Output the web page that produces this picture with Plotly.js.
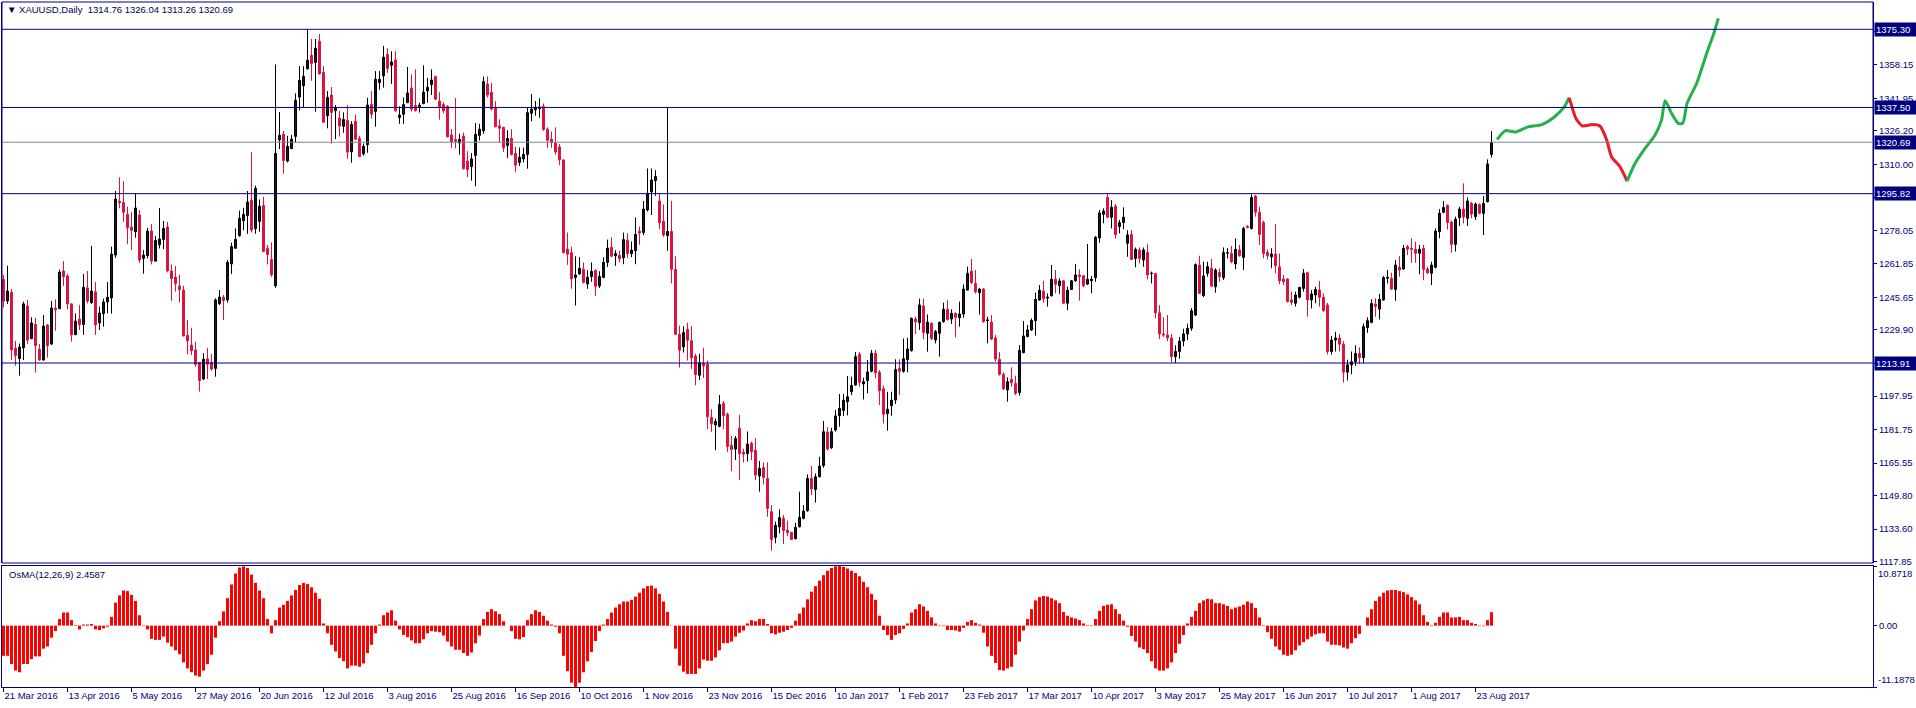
<!DOCTYPE html>
<html><head><meta charset="utf-8">
<script src="https://cdn.plot.ly/plotly-3.0.1.min.js"></script>
<style>html,body{margin:0;padding:0;background:#fff;overflow:hidden}#chart{width:1916px;height:708px}</style>
</head><body><div id="chart"></div>
<script>
// ---- tick labels (one every 16 daily bars) ----
const dateLabels = ["21 Mar 2016","13 Apr 2016","5 May 2016","27 May 2016","20 Jun 2016","12 Jul 2016","3 Aug 2016","25 Aug 2016","16 Sep 2016","10 Oct 2016","1 Nov 2016","23 Nov 2016","15 Dec 2016","10 Jan 2017","1 Feb 2017","23 Feb 2017","17 Mar 2017","10 Apr 2017","3 May 2017","25 May 2017","16 Jun 2017","10 Jul 2017","1 Aug 2017","23 Aug 2017"];
const labelEvery = 16;
const priceTicks = [1374.35,1358.15,1341.95,1326.20,1310.00,1293.80,1278.05,1261.85,1245.65,1229.90,1213.70,1197.95,1181.75,1165.55,1149.80,1133.60,1117.85];
const hiddenPriceTicks = [1374.35,1293.80,1213.70];
const osmaTicks = [10.8718, 0, -11.1878];

// ---- XAUUSD daily OHLC ----
const open = [
1254.4,1243.9,1248.1,1221.0,1216.0,1221.3,1241.5,1225.7,1232.6,1220.5,
1215.4,1232.3,1223.1,1240.4,1240.2,1258.4,1256.0,1242.5,1227.6,1235.2,
1232.5,1250.2,1243.1,1248.3,1233.3,1237.8,1243.4,1245.4,1266.1,1292.2,
1291.6,1285.8,1279.7,1277.4,1285.5,1264.5,1265.8,1277.7,1263.2,1271.1,
1273.7,1279.7,1258.4,1255.5,1251.1,1249.2,1227.3,1222.6,1220.2,1214.1,
1206.2,1215.9,1214.1,1211.3,1242.6,1245.7,1244.4,1261.8,1269.4,1275.5,
1282.7,1285.3,1292.6,1278.9,1282.4,1290.1,1269.4,1264.0,1251.3,1321.9,
1324.6,1311.6,1317.6,1323.5,1342.5,1348.0,1356.2,1362.7,1359.3,1369.5,
1354.5,1333.5,1343.5,1335.9,1332.4,1328.4,1331.3,1316.1,1330.8,1322.5,
1315.1,1319.5,1339.0,1335.6,1349.5,1352.8,1363.2,1357.9,1360.5,1332.6,
1334.2,1339.8,1346.9,1338.4,1337.7,1339.3,1345.5,1348.6,1352.5,1340.6,
1338.9,1338.1,1324.2,1322.0,1320.3,1323.7,1311.6,1308.9,1314.3,1324.0,
1326.2,1348.8,1344.9,1337.2,1328.6,1327.9,1319.1,1322.5,1315.2,1310.9,
1312.6,1314.8,1334.7,1336.4,1336.9,1338.1,1327.0,1322.1,1320.3,1318.4,
1312.1,1269.0,1267.3,1255.3,1257.0,1259.3,1252.2,1255.8,1258.7,1251.2,
1255.3,1262.6,1269.9,1265.8,1265.9,1264.8,1273.3,1266.8,1268.2,1277.7,
1277.0,1287.9,1296.7,1302.1,1292.3,1282.4,1275.6,1277.5,1259.2,1227.8,
1221.7,1230.2,1224.7,1217.3,1208.0,1213.7,1213.4,1187.6,1184.0,1183.3,
1194.5,1189.1,1174.2,1172.3,1182.3,1170.8,1170.1,1175.1,1171.8,1159.3,
1163.4,1158.1,1142.0,1129.6,1134.7,1138.8,1133.1,1132.0,1129.0,1134.7,
1138.8,1142.5,1158.1,1152.8,1158.9,1164.3,1180.5,1173.0,1181.5,1188.4,
1190.9,1195.2,1200.0,1203.3,1218.1,1203.8,1205.4,1209.9,1218.6,1209.4,
1201.5,1189.4,1193.3,1196.0,1211.3,1209.9,1215.5,1219.9,1235.2,1233.4,
1241.5,1228.3,1233.1,1225.0,1228.3,1233.9,1239.9,1235.2,1237.9,1235.8,
1237.6,1249.2,1258.3,1252.4,1247.9,1249.7,1234.4,1233.7,1226.0,1215.7,
1208.4,1200.9,1206.0,1204.1,1199.6,1218.9,1226.7,1229.9,1234.4,1244.4,
1248.7,1245.3,1246.5,1254.4,1251.3,1253.7,1242.8,1249.5,1253.7,1256.5,
1256.1,1252.1,1253.7,1255.2,1274.4,1285.8,1294.0,1284.4,1289.7,1279.9,
1281.8,1271.8,1276.1,1264.5,1268.6,1263.7,1267.4,1257.2,1257.1,1238.2,
1228.0,1227.5,1226.0,1217.0,1219.5,1224.5,1228.0,1230.7,1237.1,1261.3,
1246.5,1257.3,1259.7,1250.8,1257.8,1255.2,1267.1,1266.9,1261.8,1268.6,
1265.0,1280.0,1278.9,1294.7,1286.8,1281.9,1267.4,1265.3,1266.6,1260.5,
1254.5,1254.5,1244.4,1242.8,1245.7,1250.0,1257.6,1244.4,1246.8,1249.2,
1245.7,1242.0,1219.5,1225.0,1226.0,1223.0,1209.5,1213.0,1214.5,1218.5,
1216.5,1231.0,1233.6,1242.4,1240.0,1244.4,1254.9,1254.9,1249.5,1260.2,
1259.4,1270.2,1269.4,1268.9,1267.0,1269.4,1259.4,1257.3,1260.2,1277.4,
1286.8,1290.2,1282.1,1271.3,1284.2,1288.4,1283.9,1291.1,1284.7,1290.6,
1286.3,1291.9,1314.76];
const high = [
1256.5,1261.0,1249.7,1224.6,1223.4,1243.6,1244.4,1236.0,1235.8,1223.1,
1237.1,1232.8,1243.9,1244.7,1259.1,1263.2,1257.0,1242.8,1237.9,1242.0,
1257.0,1258.4,1270.5,1253.1,1241.2,1245.0,1253.1,1270.2,1297.1,1303.7,
1301.9,1289.5,1286.9,1295.8,1287.9,1268.5,1279.3,1281.1,1275.3,1288.9,
1282.6,1282.2,1261.6,1260.8,1256.6,1251.3,1234.7,1231.0,1224.2,1214.5,
1218.7,1221.2,1218.3,1245.2,1249.2,1246.8,1263.7,1272.1,1279.0,1287.6,
1289.0,1297.1,1315.9,1299.7,1293.0,1294.3,1271.0,1272.3,1358.3,1335.3,
1326.1,1323.8,1324.2,1344.3,1357.5,1357.5,1375.3,1370.6,1370.6,1373.0,
1357.5,1345.4,1347.4,1338.7,1335.8,1335.1,1338.7,1330.9,1334.0,1323.8,
1320.1,1342.2,1345.4,1355.1,1355.1,1367.3,1366.1,1364.7,1364.7,1338.1,
1342.3,1357.1,1353.4,1355.9,1339.8,1357.9,1351.7,1355.9,1352.8,1344.9,
1340.1,1338.5,1327.0,1342.0,1324.8,1325.4,1316.4,1315.5,1329.9,1329.6,
1352.5,1352.5,1349.4,1340.6,1331.8,1328.2,1326.5,1327.0,1318.6,1318.1,
1318.1,1337.2,1344.0,1340.6,1342.0,1339.4,1327.9,1325.9,1327.9,1319.8,
1312.6,1277.0,1270.2,1265.5,1265.1,1262.6,1258.8,1262.6,1259.2,1258.3,
1265.1,1273.6,1274.8,1268.5,1268.2,1277.0,1276.6,1272.7,1284.3,1279.9,
1292.3,1308.0,1308.0,1307.2,1295.7,1290.6,1337.6,1292.3,1265.5,1232.0,
1231.7,1233.4,1231.7,1218.4,1218.4,1221.3,1215.1,1191.6,1187.1,1198.4,
1195.5,1189.9,1178.6,1178.6,1188.8,1172.5,1180.8,1175.9,1177.5,1166.5,
1165.9,1165.9,1145.2,1137.2,1143.1,1140.4,1137.7,1132.3,1136.7,1151.7,
1145.2,1160.1,1164.1,1160.5,1168.6,1185.9,1182.8,1182.6,1191.2,1198.9,
1198.9,1207.6,1207.3,1219.2,1219.2,1206.8,1215.4,1220.2,1220.2,1210.5,
1203.0,1200.0,1200.0,1215.7,1215.7,1225.8,1226.2,1236.0,1236.3,1245.0,
1245.0,1237.4,1233.6,1229.9,1233.9,1243.1,1244.4,1239.9,1238.4,1243.6,
1252.0,1260.5,1264.2,1258.9,1250.2,1250.2,1236.3,1237.1,1227.5,1219.2,
1209.4,1207.0,1211.8,1207.8,1222.6,1234.2,1232.3,1235.5,1247.9,1251.6,
1253.6,1247.6,1261.3,1258.9,1254.9,1253.9,1250.8,1254.1,1261.8,1259.2,
1256.5,1271.5,1256.0,1275.3,1287.9,1288.7,1296.0,1292.7,1290.8,1283.1,
1289.2,1278.2,1278.2,1269.8,1269.8,1269.8,1271.4,1258.1,1257.6,1241.9,
1236.0,1237.1,1228.0,1222.5,1226.5,1230.5,1233.0,1240.5,1262.1,1265.8,
1262.9,1262.9,1264.2,1259.7,1259.7,1269.8,1269.4,1270.5,1274.2,1271.0,
1279.8,1280.6,1295.5,1295.2,1289.5,1282.7,1268.9,1269.4,1281.1,1266.9,
1256.5,1254.9,1248.4,1248.4,1250.8,1259.4,1258.1,1249.2,1250.8,1253.6,
1247.6,1243.0,1227.0,1229.0,1228.0,1224.5,1215.5,1219.5,1222.5,1221.5,
1233.0,1236.0,1244.7,1245.2,1247.3,1256.0,1258.9,1257.6,1263.7,1265.6,
1271.0,1271.0,1274.2,1272.6,1271.0,1271.0,1260.5,1262.9,1279.0,1288.4,
1292.3,1290.6,1282.7,1284.7,1289.5,1300.8,1294.0,1291.9,1291.5,1291.1,
1294.7,1312.4,1326.04];
const low = [
1240.7,1242.5,1215.4,1212.6,1207.8,1215.4,1223.1,1225.4,1209.2,1215.0,
1215.0,1216.5,1222.6,1229.5,1240.0,1251.2,1239.9,1224.2,1227.5,1229.9,
1227.5,1242.8,1242.5,1227.5,1229.9,1231.5,1237.9,1237.8,1264.8,1288.7,
1282.2,1271.4,1268.5,1274.5,1262.3,1257.1,1264.5,1261.6,1262.9,1269.3,
1269.0,1257.7,1244.0,1248.4,1243.2,1226.7,1218.1,1217.8,1212.1,1200.1,
1205.7,1206.2,1210.2,1207.3,1242.0,1234.7,1243.1,1257.0,1269.1,1275.0,
1278.1,1276.4,1277.1,1276.4,1277.4,1267.4,1261.6,1255.6,1250.3,1317.4,
1305.5,1310.9,1317.4,1320.5,1336.1,1337.7,1355.8,1350.4,1335.4,1353.5,
1330.1,1327.4,1320.0,1322.2,1323.4,1325.3,1312.7,1310.8,1321.7,1313.4,
1314.2,1315.6,1332.1,1328.2,1346.1,1347.1,1354.2,1348.9,1335.4,1329.6,
1329.6,1339.8,1335.5,1335.5,1335.0,1339.3,1339.8,1343.5,1341.1,1331.6,
1334.7,1323.1,1318.0,1317.7,1314.7,1307.5,1303.8,1302.1,1299.4,1321.5,
1324.8,1342.3,1336.0,1327.9,1320.6,1316.0,1313.0,1314.3,1306.2,1309.2,
1310.9,1307.9,1330.8,1333.5,1332.5,1326.2,1318.0,1318.0,1314.7,1309.6,
1266.8,1261.4,1249.8,1241.7,1256.6,1252.4,1249.8,1253.2,1246.4,1250.2,
1254.9,1260.4,1265.1,1260.9,1262.6,1261.7,1264.8,1265.1,1261.7,1271.1,
1275.8,1287.2,1285.5,1294.8,1278.7,1274.9,1268.2,1252.4,1227.4,1211.7,
1219.0,1215.1,1211.1,1203.2,1205.7,1206.6,1182.0,1180.6,1171.8,1182.8,
1182.0,1170.9,1161.6,1167.0,1157.4,1165.8,1166.3,1167.0,1157.3,1151.7,
1155.2,1139.6,1123.1,1126.7,1131.5,1126.4,1130.2,1128.3,1128.6,1134.4,
1138.3,1142.0,1150.1,1146.4,1158.6,1163.3,1171.5,1172.3,1180.7,1183.1,
1188.3,1188.6,1198.4,1202.8,1202.5,1196.3,1199.2,1209.4,1206.5,1193.6,
1184.7,1181.2,1188.4,1194.1,1198.4,1209.2,1209.4,1219.4,1227.9,1229.9,
1225.4,1219.4,1225.0,1223.4,1217.0,1233.4,1234.4,1232.8,1226.3,1231.5,
1235.8,1248.9,1252.1,1247.6,1237.4,1233.4,1223.4,1225.0,1214.6,1207.8,
1200.9,1195.2,1202.5,1198.4,1198.1,1218.6,1226.3,1229.4,1227.1,1244.1,
1243.1,1241.2,1246.0,1247.6,1247.3,1242.4,1239.5,1249.2,1253.2,1244.1,
1250.5,1251.6,1247.6,1253.2,1272.1,1281.5,1284.2,1279.0,1274.2,1276.6,
1278.6,1265.3,1263.7,1260.2,1262.1,1260.5,1254.4,1252.4,1235.5,1225.5,
1226.5,1224.5,1214.2,1214.0,1216.0,1222.0,1225.0,1229.5,1236.6,1247.3,
1245.8,1255.7,1250.8,1247.9,1253.2,1254.1,1264.5,1262.1,1259.2,1265.3,
1258.9,1279.0,1278.5,1284.7,1271.0,1264.5,1264.0,1259.7,1257.3,1252.0,
1251.6,1243.2,1242.0,1241.2,1245.2,1248.4,1236.3,1240.3,1242.8,1241.2,
1238.7,1218.0,1218.0,1219.5,1219.5,1204.5,1205.5,1208.5,1212.5,1213.5,
1214.0,1228.5,1233.1,1236.3,1235.0,1244.0,1252.4,1249.2,1244.0,1255.7,
1258.9,1266.1,1262.4,1262.4,1256.9,1254.0,1256.9,1251.6,1259.7,1274.2,
1286.3,1278.5,1267.3,1267.8,1280.2,1281.4,1280.2,1283.9,1283.1,1285.8,
1275.8,1291.6,1313.26];
const close = [
1243.9,1248.7,1220.2,1217.5,1221.6,1242.5,1225.0,1233.3,1222.3,1215.4,
1231.8,1222.3,1240.5,1239.7,1257.9,1255.7,1242.5,1227.6,1234.2,1232.5,
1250.5,1243.9,1248.7,1232.3,1238.1,1243.4,1245.7,1266.6,1293.2,1291.4,
1286.8,1279.3,1278.1,1288.9,1263.7,1266.1,1277.7,1263.2,1273.2,1273.9,
1279.0,1258.5,1254.8,1252.3,1249.4,1227.1,1224.7,1219.9,1213.3,1205.4,
1215.7,1213.3,1211.0,1244.4,1245.8,1244.1,1262.6,1270.2,1273.7,1283.9,
1285.8,1291.8,1278.2,1298.4,1289.7,1267.9,1266.4,1256.6,1315.3,1324.0,
1311.9,1318.7,1322.2,1340.9,1350.6,1352.5,1360.3,1358.8,1366.1,1353.7,
1330.3,1342.4,1335.1,1337.4,1328.5,1331.7,1315.9,1329.3,1322.1,1313.8,
1318.7,1338.7,1334.2,1351.1,1351.1,1361.8,1356.4,1359.5,1335.9,1333.8,
1338.9,1344.5,1336.7,1335.9,1338.6,1344.9,1347.2,1350.8,1341.5,1337.7,
1335.9,1323.3,1320.8,1321.1,1322.0,1307.9,1307.5,1312.6,1324.5,1327.0,
1350.0,1343.5,1336.7,1328.2,1327.4,1318.0,1322.5,1314.7,1309.6,1313.5,
1314.8,1335.0,1336.7,1337.6,1337.7,1326.9,1321.6,1320.6,1316.0,1312.1,
1267.3,1266.5,1254.6,1256.5,1259.7,1252.9,1255.4,1258.2,1251.0,1255.8,
1262.6,1269.5,1265.6,1266.8,1264.3,1273.6,1266.8,1268.5,1276.1,1276.8,
1288.4,1296.0,1302.4,1304.1,1281.7,1275.8,1277.5,1259.2,1227.8,1220.1,
1228.6,1224.9,1216.4,1208.3,1214.0,1212.5,1187.9,1184.5,1185.7,1193.8,
1188.4,1173.5,1172.1,1177.4,1170.1,1169.8,1174.7,1171.0,1159.7,1162.9,
1158.5,1143.6,1128.6,1135.4,1139.1,1132.8,1131.9,1128.6,1134.4,1139.3,
1142.3,1158.1,1153.1,1158.9,1164.1,1180.7,1172.3,1180.7,1188.3,1192.0,
1195.9,1197.6,1203.1,1217.0,1204.6,1204.9,1209.6,1218.6,1209.2,1200.5,
1189.1,1191.5,1196.0,1210.8,1209.9,1216.0,1220.7,1235.5,1233.9,1242.0,
1228.7,1233.6,1225.8,1229.1,1233.6,1239.9,1235.0,1237.9,1236.0,1237.6,
1249.7,1257.3,1252.9,1248.4,1249.7,1233.9,1234.7,1225.5,1215.8,1208.4,
1201.5,1204.9,1204.4,1199.2,1220.0,1227.0,1229.9,1234.5,1244.7,1249.1,
1245.0,1245.7,1254.4,1252.0,1253.6,1242.8,1249.2,1253.7,1256.5,1255.7,
1251.3,1254.4,1254.4,1274.7,1286.5,1287.4,1284.4,1289.2,1276.0,1281.8,
1284.4,1275.8,1264.0,1268.9,1264.5,1268.6,1256.5,1257.3,1238.2,1228.0,
1227.5,1226.0,1217.0,1219.5,1224.5,1228.0,1230.7,1239.2,1261.5,1247.6,
1256.0,1260.5,1251.1,1258.9,1255.7,1267.3,1267.2,1262.9,1268.9,1265.8,
1279.0,1279.5,1294.0,1286.8,1276.1,1266.9,1265.8,1266.6,1261.0,1253.7,
1253.2,1243.6,1243.2,1246.8,1250.5,1257.3,1244.4,1247.3,1249.5,1245.7,
1239.2,1219.5,1225.0,1226.0,1223.0,1209.5,1213.0,1214.5,1218.5,1216.5,
1231.5,1234.4,1242.7,1241.2,1244.7,1255.2,1255.3,1249.7,1261.3,1258.9,
1269.4,1269.0,1268.9,1267.0,1268.9,1259.2,1257.6,1261.3,1277.7,1286.3,
1289.2,1281.9,1271.3,1283.5,1288.4,1284.5,1292.3,1285.9,1290.8,1286.3,
1291.1,1310.2,1320.69];

// ---- OsMA(12,26,9) histogram ----
const osma = [
-5.5,-5.5,-7.0,-8.2,-8.5,-7.0,-7.0,-6.1,-5.6,-5.6,
-4.2,-3.8,-2.2,-1.0,1.2,2.4,2.4,1.0,0.1,-0.7,
0.2,0.2,0.3,-0.7,-0.8,-0.5,-0.2,1.6,4.2,5.5,
6.4,6.3,5.6,4.5,1.9,-0.1,-0.7,-2.4,-2.6,-2.6,
-2.0,-3.1,-3.8,-4.5,-5.2,-6.7,-7.8,-8.5,-9.1,-9.3,
-8.2,-7.0,-5.3,-2.2,0.8,2.6,5.0,7.5,9.5,10.6,
10.8,10.5,9.3,7.8,6.4,5.0,1.2,-1.4,1.0,3.3,
3.8,4.5,5.5,6.5,7.4,7.8,7.6,7.0,6.0,4.9,
0.4,-1.4,-3.5,-4.7,-5.9,-6.5,-7.8,-7.3,-7.3,-7.5,
-6.9,-5.0,-3.5,-1.4,0.2,1.9,2.4,2.8,0.9,-0.7,
-1.7,-2.1,-2.7,-3.2,-3.2,-2.5,-1.4,-1.0,-1.1,-1.2,
-1.8,-2.9,-3.8,-4.4,-4.4,-5.0,-5.5,-4.9,-3.2,-1.8,
1.2,2.5,3.0,2.6,2.1,0.8,0.0,-1.0,-2.4,-2.5,
-2.1,1.0,2.1,2.8,2.5,1.8,0.9,0.2,-0.2,-1.4,
-5.5,-8.3,-10.4,-11.1878,-10.4,-8.5,-6.5,-4.8,-2.8,-1.0,
0.2,1.2,2.4,3.3,3.9,4.4,4.4,4.7,5.3,6.0,
6.8,7.2,7.3,6.8,5.8,4.4,2.5,0.05,-4.2,-7.3,
-8.4,-8.8,-8.8,-8.8,-7.8,-6.2,-6.4,-6.4,-5.8,-4.5,
-3.2,-3.2,-2.9,-2.0,-1.3,-0.9,0.4,1.0,0.8,1.2,
1.2,0.3,-1.4,-1.6,-1.3,-1.1,-0.8,-0.4,0.9,2.2,
3.3,4.8,6.2,7.2,8.2,9.2,10.0,10.5,10.8,10.8718,
10.7,10.4,10.0,9.6,9.0,8.0,7.0,5.8,4.7,1.8,
-0.8,-1.7,-2.6,-1.7,-1.4,-0.6,0.4,2.4,3.0,3.9,
3.5,2.7,1.5,0.4,-0.1,-0.1,-0.8,-0.8,-0.9,-1.1,
-0.4,0.7,1.0,0.5,0.2,-1.3,-3.8,-5.5,-6.8,-8.1,
-8.2,-7.8,-7.5,-5.3,-2.9,-0.9,1.2,3.0,4.6,5.2,
5.4,5.3,5.0,4.6,4.1,2.5,1.8,1.5,1.3,1.0,
0.4,0.1,-0.1,1.2,2.7,3.6,3.8,3.9,3.0,2.1,
0.9,-0.2,-1.9,-2.9,-4.0,-4.3,-5.0,-6.5,-7.8,-8.2,
-8.2,-7.8,-6.7,-5.0,-3.3,-1.7,0.4,1.6,2.7,4.1,
4.6,4.9,4.8,4.1,4.1,3.9,3.6,3.0,3.3,3.5,
3.8,4.4,4.1,3.2,1.5,0.1,-1.2,-2.4,-3.8,-4.4,
-5.3,-5.5,-5.3,-4.5,-3.6,-3.0,-2.5,-2.0,-1.6,-1.4,
-1.4,-2.9,-3.5,-3.5,-3.6,-4.0,-4.2,-3.2,-2.3,-1.5,
0.0,1.5,3.0,4.5,5.3,6.0,6.4,6.5,6.5,6.3,
6.1,5.7,5.2,4.6,3.9,1.9,0.7,-0.1,0.5,1.6,
2.4,2.4,1.5,1.5,1.6,1.0,1.0,0.5,0.3,-0.1,
-0.1,1.0,2.4587];

// ---- horizontal levels and current price ----
const levelLines = [1375.30, 1337.50, 1295.82, 1213.91];
const lastPrice = 1320.69;

// ---- hand-drawn projection (bar index, price) ----
const projGreen1Bar = [373.4,375.5,377.9,381.0,384.6,387.7,390.1,391.4];
const projGreen1Price = [1322.0,1326.3,1325.6,1328.0,1329.2,1332.9,1337.5,1342.2];
const projRedBar = [391.4,391.7,393.1,394.7,397.1,399.1,400.8,402.0,404.1,405.9];
const projRedPrice = [1342.2,1340.4,1332.2,1328.6,1329.2,1328.5,1321.8,1313.7,1308.9,1301.9];
const projGreen2Bar = [405.9,407.9,410.4,412.9,414.5,415.4,417.0,418.7,419.8,420.9,423.3,425.8,427.6,428.7];
const projGreen2Price = [1301.9,1310.5,1317.7,1324.2,1331.4,1340.8,1334.7,1329.8,1329.8,1339.5,1349.2,1363.7,1373.4,1380.6];

// ---- build ----
const NAVY = '#000080';
const FONT = 'Liberation Sans, Arial, sans-serif';
const bars = open.map((_, i) => i);
const tickvals = dateLabels.map((_, i) => i * labelEvery);

const traces = [
  {type:'candlestick', x:bars, open:open, high:high, low:low, close:close,
   xaxis:'x', yaxis:'y', whiskerwidth:0, hoverinfo:'skip',
   increasing:{line:{color:'#000000', width:1}, fillcolor:'#16163c'},
   decreasing:{line:{color:'#dc143c', width:1}, fillcolor:'#dc143c'}},
  {type:'bar', x:bars, y:osma, xaxis:'x', yaxis:'y2', hoverinfo:'skip',
   marker:{color:'#ff0000', line:{width:0}}},
  {type:'scatter', mode:'lines', x:projGreen1Bar, y:projGreen1Price, xaxis:'x', yaxis:'y',
   line:{color:'#22b14c', width:3, shape:'spline', smoothing:0.6}, hoverinfo:'skip'},
  {type:'scatter', mode:'lines', x:projRedBar, y:projRedPrice, xaxis:'x', yaxis:'y',
   line:{color:'#ed1c24', width:3, shape:'spline', smoothing:0.6}, hoverinfo:'skip'},
  {type:'scatter', mode:'lines', x:projGreen2Bar, y:projGreen2Price, xaxis:'x', yaxis:'y',
   line:{color:'#22b14c', width:3, shape:'spline', smoothing:0.6}, hoverinfo:'skip'}
];

const mainBottom = 124/685;
const oscTop = 121/685;

const shapes = [
  {type:'rect', xref:'paper', yref:'paper', x0:0, x1:1, y0:mainBottom, y1:1,
   line:{color:NAVY, width:1}, fillcolor:'rgba(0,0,0,0)', layer:'above'}
];
levelLines.forEach(v => shapes.push({type:'line', xref:'paper', x0:0, x1:1, yref:'y', y0:v, y1:v,
  line:{color:NAVY, width:1}, layer:'above'}));
shapes.push({type:'line', xref:'paper', x0:0, x1:1, yref:'y', y0:lastPrice, y1:lastPrice,
  line:{color:'#778899', width:1}, layer:'above'});

const annotations = [];
levelLines.concat([lastPrice]).forEach(v => annotations.push({
  xref:'paper', x:1, xanchor:'left', xshift:1, yref:'y', y:v, yanchor:'middle',
  text:v.toFixed(2), showarrow:false, bgcolor:NAVY, borderpad:1, width:40, align:'left',
  font:{family:FONT, size:9.5, color:'#ffffff'}}));
annotations.push({xref:'paper', x:0, xshift:5, xanchor:'left', yref:'paper', y:oscTop, yshift:-1, yanchor:'top',
  text:'OsMA(12,26,9) 2.4587', showarrow:false, font:{family:FONT, size:9.5, color:'#000050'}});
annotations.push({xref:'paper', x:1, xanchor:'left', xshift:3, yref:'y2', y:osmaTicks[0], yanchor:'top',
  text:'10.8718', showarrow:false, font:{family:FONT, size:9.5, color:NAVY}});
annotations.push({xref:'paper', x:1, xanchor:'left', xshift:3, yref:'y2', y:osmaTicks[2], yanchor:'bottom',
  text:'-11.1878', showarrow:false, font:{family:FONT, size:9.5, color:NAVY}});

const layout = {
  width:1916, height:708,
  margin:{l:2, r:43, t:2, b:21, pad:0},
  paper_bgcolor:'#ffffff', plot_bgcolor:'#ffffff',
  font:{family:FONT, size:9.5, color:NAVY},
  showlegend:false, bargap:0.25, boxgap:0.3,
  title:{text:'\u25BC XAUUSD,Daily\u00a0\u00a01314.76 1326.04 1313.26 1320.69', xref:'container', yref:'container',
    x:7/1916, xanchor:'left', y:1-10/708, yanchor:'middle', font:{family:FONT, size:9.5, color:'#000050'}},
  xaxis:{domain:[0,1], range:[-0.375, 467.375], anchor:'y2', showgrid:false, zeroline:false,
    showline:true, linecolor:NAVY, linewidth:1, mirror:true, ticks:'outside', ticklen:4, tickcolor:NAVY,
    tickvals:tickvals, ticktext:dateLabels, ticklabelposition:'outside right',
    tickfont:{family:FONT, size:9.5, color:NAVY}, rangeslider:{visible:false}, fixedrange:true},
  yaxis:{domain:[mainBottom,1], anchor:'x', side:'right', range:[1117.2, 1388.5], showgrid:false, zeroline:false,
    showline:true, linecolor:NAVY, linewidth:1, mirror:true, ticks:'outside', ticklen:3, tickcolor:NAVY,
    tickvals:priceTicks,
    ticktext:priceTicks.map(v => hiddenPriceTicks.includes(v) ? '' : v.toFixed(2)),
    tickfont:{family:FONT, size:9.5, color:NAVY}, fixedrange:true},
  yaxis2:{domain:[0,oscTop], anchor:'x', side:'right', range:[osmaTicks[2], osmaTicks[0]], showgrid:false, zeroline:false,
    showline:true, linecolor:NAVY, linewidth:1, mirror:true, ticks:'outside', ticklen:3, tickcolor:NAVY,
    tickvals:osmaTicks, ticktext:['', '0.00', ''],
    tickfont:{family:FONT, size:9.5, color:NAVY}, fixedrange:true},
  shapes:shapes, annotations:annotations
};

Plotly.newPlot('chart', traces, layout, {staticPlot:true, displayModeBar:false});
</script>
</body></html>
